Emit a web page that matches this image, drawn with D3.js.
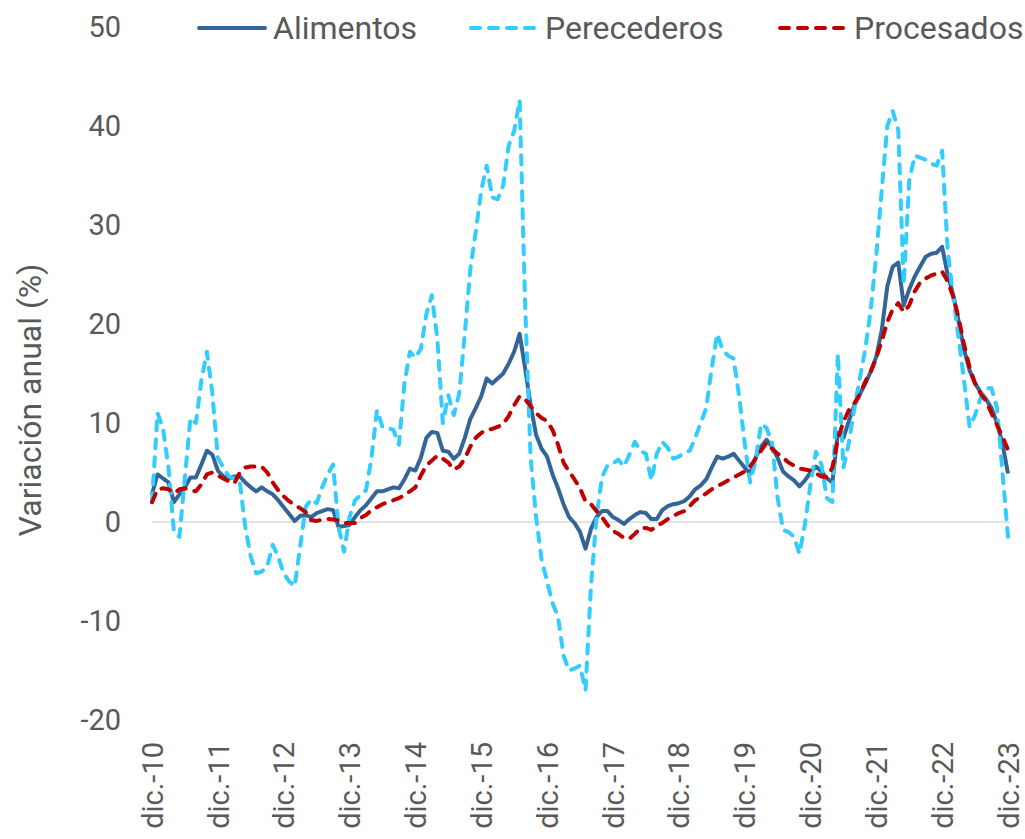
<!DOCTYPE html>
<html>
<head>
<meta charset="utf-8">
<script src="https://cdn.jsdelivr.net/npm/d3@7"></script>
<style>
    body { margin: 0; background: #fff; }
    text { font-family: Roboto, "Open Sans", sans-serif; fill: #595959; }
</style>
</head>
<body>
<svg id="chart_svg" width="1025" height="839"></svg>
<script>

// tick labels, one per december
var labels = ["dic.-10", "dic.-11", "dic.-12", "dic.-13", "dic.-14", "dic.-15", "dic.-16",
    "dic.-17", "dic.-18", "dic.-19", "dic.-20", "dic.-21", "dic.-22", "dic.-23"];

var yTicks = [-20, -10, 0, 10, 20, 30, 40, 50];

// monthly annual variation (%), dic.-10 .. dic.-23
var alimentos = [2.8,
    4.8, 4.4, 4.0, 2.0, 2.8, 3.5, 4.5, 4.5, 5.8, 7.2, 6.8, 5.2,
    4.6, 4.4, 4.6, 4.6, 4.0, 3.5, 3.1, 3.5, 3.1, 2.8, 2.2, 1.5,
    0.8, 0.1, 0.6, 0.7, 0.5, 0.9, 1.1, 1.3, 1.2, -0.5, -0.4, -0.3,
    0.5, 1.2, 1.7, 2.4, 3.1, 3.1, 3.3, 3.5, 3.4, 4.3, 5.4, 5.2,
    6.5, 8.5, 9.1, 9.0, 7.2, 7.1, 6.4, 6.9, 8.5, 10.4, 11.5, 12.7,
    14.5, 14.0, 14.5, 15.0, 16.0, 17.2, 19.0, 15.5, 11.8, 8.8, 7.4, 6.6,
    4.8, 3.4, 1.8, 0.5, -0.1, -1.0, -2.7, -0.7, 0.5, 1.1, 1.1, 0.5,
    0.2, -0.2, 0.3, 0.7, 1.0, 0.9, 0.3, 0.3, 1.2, 1.6, 1.8, 1.9,
    2.1, 2.6, 3.3, 3.7, 4.3, 5.5, 6.6, 6.4, 6.6, 6.9, 6.2, 5.5,
    4.9, 6.5, 7.6, 8.3, 7.6, 6.5, 5.1, 4.6, 4.2, 3.6, 4.2, 5.0,
    5.6, 5.1, 4.4, 4.0, 9.0, 8.5, 10.2, 11.8, 12.9, 14.0, 15.2, 16.7,
    19.4, 23.8, 25.8, 26.2, 21.9, 23.5, 24.8, 25.8, 26.8, 27.1, 27.2, 27.8,
    25.0, 23.0, 20.3, 17.4, 15.3, 14.0, 13.1, 12.4, 11.5, 10.0, 7.9, 4.9];

var perecederos = [2.0,
    11.0, 9.5, 5.5, -1.0, -1.5, 4.5, 10.5, 10.0, 14.3, 17.2, 13.0, 6.5,
    5.5, 4.6, 4.4, 4.0, -0.5, -3.5, -5.2, -5.0, -4.5, -2.3, -3.5, -5.2,
    -6.0, -6.5, -2.5, 1.5, 2.3, 1.9, 3.5, 4.8, 5.8, -0.5, -3.0, 0.5,
    2.2, 2.7, 3.2, 6.5, 11.3, 9.6, 9.5, 9.3, 7.8, 14.0, 17.2, 16.6,
    17.5, 21.0, 22.9, 18.5, 10.0, 12.8, 10.8, 13.0, 19.0, 25.5, 29.3, 33.5,
    36.0, 32.8, 32.6, 34.0, 38.0, 39.5, 42.6, 22.0, 6.5, 0.5, -3.8, -6.0,
    -8.2, -9.6, -13.5, -15.0, -14.8, -14.5, -17.0, -6.5, 0.5, 4.5, 5.7, 5.9,
    6.3, 5.6, 6.8, 8.1, 7.2, 6.9, 4.2, 6.9, 8.1, 7.5, 6.4, 6.6,
    7.0, 7.2, 8.5, 10.0, 11.5, 15.5, 19.0, 17.4, 16.8, 16.5, 12.7, 8.0,
    4.0, 6.2, 9.9, 9.5, 8.0, 2.5, -0.8, -1.0, -1.5, -3.2, -0.2, 3.8,
    7.1, 5.8, 2.4, 2.0, 17.0, 5.5, 8.0, 11.5, 14.5, 17.5, 21.5, 27.0,
    33.6, 40.0, 41.5, 39.6, 24.0, 34.5, 37.0, 36.8, 36.6, 36.2, 36.0, 37.5,
    27.5, 22.8, 18.6, 14.2, 9.6, 10.8, 12.5, 13.5, 13.5, 11.5, 5.0, -1.5];

var procesados = [2.0,
    3.3, 3.4, 3.3, 2.9, 3.3, 3.4, 3.2, 3.1, 3.8, 4.8, 5.0, 4.7,
    4.4, 4.1, 3.9, 5.0, 5.5, 5.6, 5.6, 5.6, 5.0, 4.0, 3.2, 2.6,
    2.1, 1.7, 1.4, 1.0, 0.2, 0.1, 0.25, 0.3, 0.25, 0.15, -0.1, -0.1,
    -0.1, 0.4, 0.7, 1.2, 1.5, 1.8, 2.0, 2.2, 2.4, 2.7, 3.1, 3.5,
    4.7, 5.7, 6.2, 6.7, 6.4, 6.0, 5.3, 5.6, 6.4, 7.6, 8.5, 9.0,
    9.3, 9.4, 9.6, 9.9, 10.7, 11.8, 12.7, 12.4, 11.7, 11.0, 10.5, 10.2,
    9.3, 7.8, 6.0, 5.1, 4.3, 3.4, 2.1, 1.8, 1.1, 0.5, -0.3, -0.9,
    -1.2, -1.6, -1.7, -1.2, -0.6, -0.6, -0.8, -0.4, -0.1, 0.3, 0.6, 0.9,
    1.1, 1.6, 2.2, 2.5, 2.9, 3.3, 3.6, 3.9, 4.2, 4.5, 4.8, 5.1,
    5.6, 6.4, 7.2, 8.0, 7.4, 6.9, 6.5, 6.0, 5.7, 5.4, 5.3, 5.2,
    4.9, 4.6, 4.5, 5.5, 8.4, 10.1, 11.3, 12.0, 12.9, 14.2, 15.2, 16.6,
    18.3, 20.2, 21.5, 22.1, 21.2, 21.9, 23.3, 24.2, 24.6, 24.9, 25.1, 25.3,
    24.3, 22.8, 20.6, 17.9, 15.6, 14.0, 13.0, 12.2, 11.0, 9.8, 8.6, 7.3];

var series = [
    { name: "Alimentos", values: alimentos, color: "#346598", dash: null },
    { name: "Perecederos", values: perecederos, color: "#33CCFF", dash: "9,9" },
    { name: "Procesados", values: procesados, color: "#C00000", dash: "9,9" }
];

function drawChart() {
    var svg = d3.select("#chart_svg");

    var scaleX = d3.scaleLinear()
        .domain([0, alimentos.length - 1])
        .range([152, 1008]);

    var scaleY = d3.scaleLinear()
        .domain([-20, 50])
        .range([720, 27]);

    // zero line
    svg.append("line")
        .attr("x1", scaleX(0))
        .attr("x2", scaleX(alimentos.length - 1) + 2)
        .attr("y1", scaleY(0))
        .attr("y2", scaleY(0))
        .attr("stroke", "#D9D9D9")
        .attr("stroke-width", 1.5);

    // y axis (plain hyphen for negatives, like the original)
    var yAxis = svg.append("g")
        .attr("transform", "translate(152,0)")
        .call(d3.axisLeft(scaleY)
            .tickValues(yTicks)
            .tickFormat(function (d) { return String(d); })
            .tickSize(0)
            .tickPadding(31));
    yAxis.select(".domain").remove();
    yAxis.selectAll("text")
        .style("font-size", "29px")
        .style("font-family", "Roboto, sans-serif")
        .attr("fill", "#595959");

    // x axis, labels turned upright
    var xAxis = svg.append("g")
        .attr("transform", "translate(0,742)")
        .call(d3.axisBottom(scaleX)
            .tickValues(labels.map(function (d, i) { return i * 12; }))
            .tickFormat(function (d) { return labels[d / 12]; })
            .tickSize(0));
    xAxis.select(".domain").remove();
    xAxis.selectAll("text")
        .attr("transform", "rotate(-90)")
        .attr("x", 0)
        .attr("y", 0)
        .attr("dy", "0.35em")
        .style("text-anchor", "end")
        .style("font-size", "29px")
        .style("font-family", "Roboto, sans-serif")
        .attr("fill", "#595959");

    // y title
    svg.append("text")
        .attr("transform", "translate(30,400) rotate(-90)")
        .attr("text-anchor", "middle")
        .attr("dy", "0.35em")
        .style("font-size", "32px")
        .text("Variación anual (%)");

    var line = d3.line()
        .x(function (d, i) { return scaleX(i); })
        .y(function (d) { return scaleY(d); });

    svg.selectAll(".serie")
        .data(series)
        .enter().append("path")
        .classed("serie", true)
        .attr("d", function (d) { return line(d.values); })
        .attr("fill", "none")
        .attr("stroke", function (d) { return d.color; })
        .attr("stroke-width", 4)
        .attr("stroke-linejoin", "round")
        .attr("stroke-linecap", function (d) { return d.dash ? "round" : "butt"; })
        .attr("stroke-dasharray", function (d) { return d.dash; });

    // legend
    var legendX = [197, 469, 778];
    var legend = svg.selectAll(".legend")
        .data(series)
        .enter().append("g")
        .classed("legend", true)
        .attr("transform", function (d, i) { return "translate(" + legendX[i] + ",28)"; });

    legend.append("line")
        .attr("x1", 2)
        .attr("x2", 68)
        .attr("stroke", function (d) { return d.color; })
        .attr("stroke-width", 4)
        .attr("stroke-linecap", "round")
        .attr("stroke-dasharray", function (d) { return d.dash; });

    legend.append("text")
        .attr("x", 76)
        .attr("dy", "0.35em")
        .style("font-size", "32px")
        .text(function (d) { return d.name; });
}

drawChart();
</script>
</body>
</html>
